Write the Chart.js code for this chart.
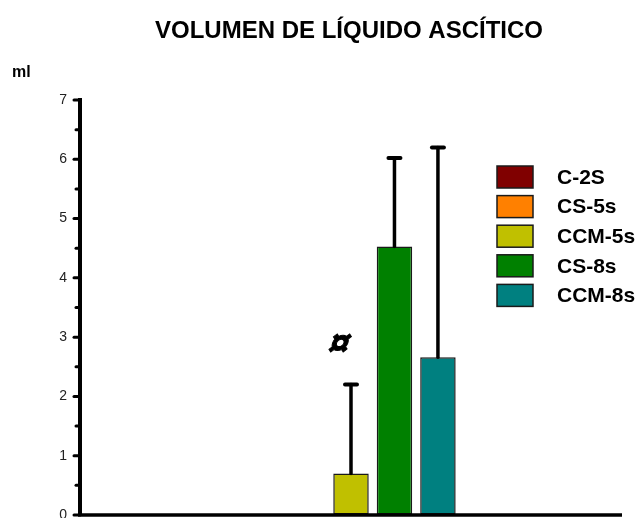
<!DOCTYPE html>
<html>
<head>
<meta charset="utf-8">
<script src="https://cdn.jsdelivr.net/npm/chart.js@4/dist/chart.umd.min.js"></script>
<style>
  html, body { margin: 0; padding: 0; background: #fff; }
  #wrap { width: 637px; height: 518px; position: relative; }
</style>
</head>
<body>
<div id="wrap"><canvas id="c" width="637" height="518"></canvas></div>
<script>
// Ascitic fluid volume (ml) per group: mean and upper error limit
const groups = ['C-2S', 'CS-5s', 'CCM-5s', 'CS-8s', 'CCM-8s'];
const colors = ['#800000', '#FF8000', '#C0C000', '#008000', '#008080'];
const means = [0, 0, 0.7, 4.53, 2.66];
const upperLimits = [null, null, 2.2, 6.02, 6.2];
const yTicks = [0, 1, 2, 3, 4, 5, 6, 7];
const markerGroup = 'CCM-5s';
const markerValue = 2.87;
const markerSymbol = '¤';

const FONT = '"Liberation Sans", Arial, Helvetica, sans-serif';

const datasets = groups.map((g, i) => ({
  label: g,
  data: [means[i]],
  backgroundColor: colors[i],
  borderColor: '#1a1a1a',
  borderWidth: 1.5,
  borderSkipped: false,
  categoryPercentage: 0.401,
  barPercentage: 0.816
}));

const decorations = {
  id: 'decorations',
  afterDatasetsDraw(chart) {
    const ctx = chart.ctx;
    const y = chart.scales.y;
    const area = chart.chartArea;
    ctx.save();

    // error bars (upper only)
    ctx.strokeStyle = '#000';
    ctx.lineCap = 'round';
    chart.data.datasets.forEach((ds, i) => {
      if (upperLimits[i] == null) return;
      const bar = chart.getDatasetMeta(i).data[0];
      const top = y.getPixelForValue(upperLimits[i]);
      const base = y.getPixelForValue(means[i]);
      ctx.lineWidth = 3.5;
      ctx.beginPath();
      ctx.moveTo(bar.x, base);
      ctx.lineTo(bar.x, top);
      ctx.stroke();
      ctx.lineWidth = 4;
      ctx.beginPath();
      ctx.moveTo(bar.x - 6, top);
      ctx.lineTo(bar.x + 6, top);
      ctx.stroke();
    });

    // significance marker, slanted
    const mi = groups.indexOf(markerGroup);
    const mbar = chart.getDatasetMeta(mi).data[0];
    ctx.save();
    ctx.translate(mbar.x - 11.5, y.getPixelForValue(markerValue));
    ctx.transform(1, 0, -0.35, 1, 0, 0);
    ctx.fillStyle = '#000';
    ctx.strokeStyle = '#000';
    ctx.lineWidth = 1;
    ctx.font = 'bold 36px ' + FONT;
    ctx.textAlign = 'center';
    ctx.textBaseline = 'middle';
    ctx.fillText(markerSymbol, 0, 0);
    ctx.strokeText(markerSymbol, 0, 0);
    ctx.restore();

    // y axis tick marks (major at integers, minor at halves) and labels
    ctx.strokeStyle = '#000';
    ctx.lineCap = 'round';
    ctx.lineWidth = 3;
    for (let v = 0; v <= 7; v += 0.5) {
      const py = y.getPixelForValue(v);
      const len = Number.isInteger(v) ? 6 : 4;
      ctx.beginPath();
      ctx.moveTo(area.left - len, py);
      ctx.lineTo(area.left, py);
      ctx.stroke();
    }
    ctx.fillStyle = '#222';
    ctx.font = '14px ' + FONT;
    ctx.textAlign = 'right';
    ctx.textBaseline = 'middle';
    yTicks.forEach(v => ctx.fillText(String(v), area.left - 13, y.getPixelForValue(v)));

    // x axis line
    ctx.lineCap = 'butt';
    ctx.lineWidth = 3.5;
    ctx.beginPath();
    ctx.moveTo(area.left - 2, area.bottom);
    ctx.lineTo(area.right, area.bottom);
    ctx.stroke();

    // title and unit
    ctx.fillStyle = '#000';
    ctx.textAlign = 'center';
    ctx.textBaseline = 'alphabetic';
    ctx.font = 'bold 24px ' + FONT;
    ctx.fillText('VOLUMEN DE LÍQUIDO ASCÍTICO', 349, 38);
    ctx.textAlign = 'left';
    ctx.font = 'bold 16px ' + FONT;
    ctx.fillText('ml', 12, 77);

    // legend
    ctx.font = 'bold 21px ' + FONT;
    ctx.textBaseline = 'middle';
    groups.forEach((g, i) => {
      const top = 166 + i * 29.6;
      ctx.fillStyle = colors[i];
      ctx.fillRect(497, top, 36, 22);
      ctx.strokeStyle = '#1a1a1a';
      ctx.lineWidth = 1.5;
      ctx.strokeRect(497, top, 36, 22);
      ctx.fillStyle = '#000';
      ctx.fillText(g, 557, top + 12);
    });
    ctx.restore();
  }
};

new Chart(document.getElementById('c'), {
  type: 'bar',
  data: { labels: [''], datasets },
  options: {
    responsive: false,
    animation: false,
    devicePixelRatio: 1,
    layout: { padding: { top: 100, right: 15, bottom: 3, left: 0 } },
    plugins: { legend: { display: false }, title: { display: false }, tooltip: { enabled: false } },
    scales: {
      x: { display: false },
      y: {
        min: 0,
        max: 7,
        afterFit(scale) { scale.width = 80; },
        afterBuildTicks(scale) { scale.ticks = yTicks.map(v => ({ value: v })); },
        ticks: { display: false },
        grid: { display: true, drawOnChartArea: false, drawTicks: false },
        border: { display: true, color: '#000', width: 4 }
      }
    }
  },
  plugins: [decorations]
});
</script>
</body>
</html>
